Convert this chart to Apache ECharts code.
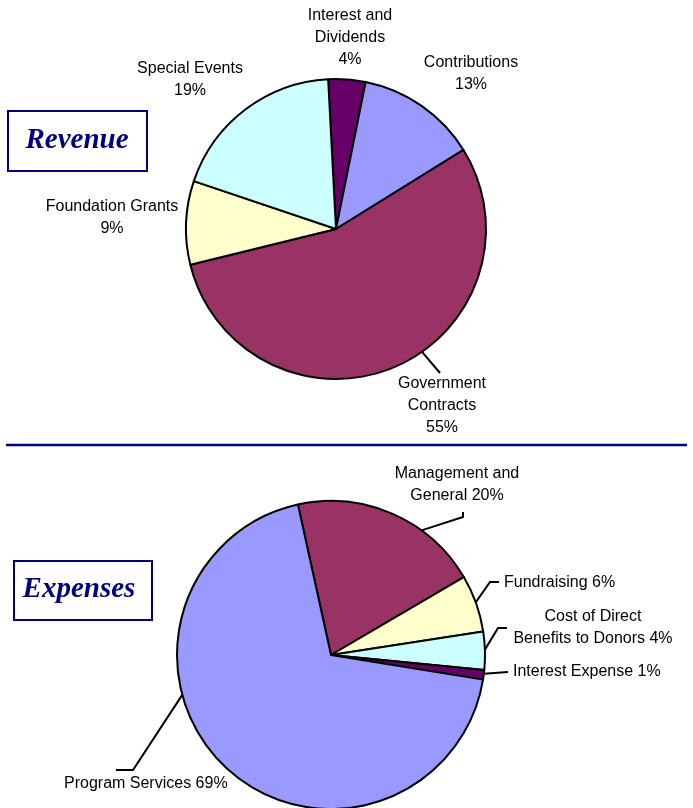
<!DOCTYPE html>
<html>
<head>
<meta charset="utf-8">
<script src="https://cdn.jsdelivr.net/npm/echarts@6/dist/echarts.min.js"></script>
<style>
  html, body { margin: 0; padding: 0; background: #fff; }
  #chart { width: 693px; height: 808px; }
</style>
</head>
<body>
<div id="chart"></div>
<script>
// data
const revenueNames = ['Interest and Dividends', 'Contributions', 'Government Contracts', 'Foundation Grants', 'Special Events'];
const revenueValues = [4, 13, 55, 9, 19];
const expenseNames = ['Management and General', 'Fundraising', 'Cost of Direct Benefits to Donors', 'Interest Expense', 'Program Services'];
const expenseValues = [20, 6, 4, 1, 69];

// how each label is broken over lines
const revenueText = ['Interest and\nDividends\n', 'Contributions\n', 'Government\nContracts\n', 'Foundation Grants\n', 'Special Events\n'];
const expenseText = ['Management and\nGeneral ', 'Fundraising ', 'Cost of Direct\nBenefits to Donors ', 'Interest Expense ', 'Program Services '];

const revenueColors = ['#660066', '#9999FF', '#993366', '#FFFFCC', '#CCFFFF'];
const expenseColors = ['#993366', '#FFFFCC', '#CCFFFF', '#660066', '#9999FF'];

// layout of the two pies and their labels
const revPie = { cx: 336, cy: 229, r: 150, start: 93 };
const expPie = { cx: 331, cy: 655, r: 154, start: 102.4 };

const revSpots = [
  { x: 350, y: 38 },
  { x: 471, y: 74 },
  { x: 442, y: 406, angle: 145, bend: [[440, 373]] },
  { x: 112, y: 218 },
  { x: 190, y: 80 }
];
const expSpots = [
  { x: 457, y: 485, angle: 36, bend: [[463, 517], [463, 512]] },
  { x: 504, y: 583, align: 'left', angle: 70, bend: [[490, 582], [499, 582]] },
  { x: 593, y: 628, angle: 88, bend: [[498, 628], [507, 628]] },
  { x: 513, y: 672, align: 'left', angle: 97, bend: [[508, 672]] },
  { x: 64, y: 784, align: 'left', angle: 255, bend: [[133, 770], [116, 770]] }
];

function edgePoint(pie, deg) {
  const a = deg * Math.PI / 180;
  return [pie.cx + pie.r * Math.sin(a), pie.cy - pie.r * Math.cos(a)];
}

function makeLayout(pie, spots) {
  return function (params) {
    const s = spots[params.dataIndex];
    const out = { x: s.x, y: s.y, align: s.align || 'center', verticalAlign: 'middle' };
    if (s.bend) {
      out.labelLinePoints = [edgePoint(pie, s.angle)].concat(s.bend);
    }
    return out;
  };
}

const labelFont = {
  show: true,
  position: 'outside',
  fontFamily: '"Liberation Sans", Arial, sans-serif',
  fontSize: 16,
  lineHeight: 22,
  color: '#000'
};

function pieSeries(pie, names, values, colors, text, spots) {
  return {
    type: 'pie',
    center: [pie.cx, pie.cy],
    radius: pie.r,
    startAngle: pie.start,
    clockwise: true,
    avoidLabelOverlap: false,
    silent: true,
    itemStyle: { borderColor: '#000', borderWidth: 2 },
    label: Object.assign({}, labelFont, {
      formatter: p => text[p.dataIndex] + p.value + '%'
    }),
    labelLine: { show: true, lineStyle: { color: '#000', width: 2 } },
    labelLayout: makeLayout(pie, spots),
    data: names.map((n, i) => ({
      name: n,
      value: values[i],
      itemStyle: { color: colors[i] },
      labelLine: { show: !!spots[i].bend }
    }))
  };
}

const titleFont = 'italic bold 29px "Liberation Serif", "DejaVu Serif", serif';

const option = {
  backgroundColor: '#fff',
  animation: false,
  graphic: [
    { type: 'rect', shape: { x: 8, y: 111, width: 139, height: 60 },
      style: { fill: '#fff', stroke: '#000080', lineWidth: 2 } },
    { type: 'text', x: 77, y: 141,
      style: { text: 'Revenue', font: titleFont, fill: '#000080', align: 'center', verticalAlign: 'middle', textAlign: 'center', textVerticalAlign: 'middle' } },
    { type: 'rect', shape: { x: 14, y: 561, width: 138, height: 59 },
      style: { fill: '#fff', stroke: '#000080', lineWidth: 2 } },
    { type: 'text', x: 79, y: 590,
      style: { text: 'Expenses', font: titleFont, fill: '#000080', align: 'center', verticalAlign: 'middle', textAlign: 'center', textVerticalAlign: 'middle' } },
    { type: 'line', shape: { x1: 6, y1: 445, x2: 687, y2: 445 },
      style: { stroke: '#000080', lineWidth: 2.5 } }
  ],
  series: [
    pieSeries(revPie, revenueNames, revenueValues, revenueColors, revenueText, revSpots),
    pieSeries(expPie, expenseNames, expenseValues, expenseColors, expenseText, expSpots)
  ]
};

const myChart = echarts.init(document.getElementById('chart'));
myChart.setOption(option);
</script>
</body>
</html>
